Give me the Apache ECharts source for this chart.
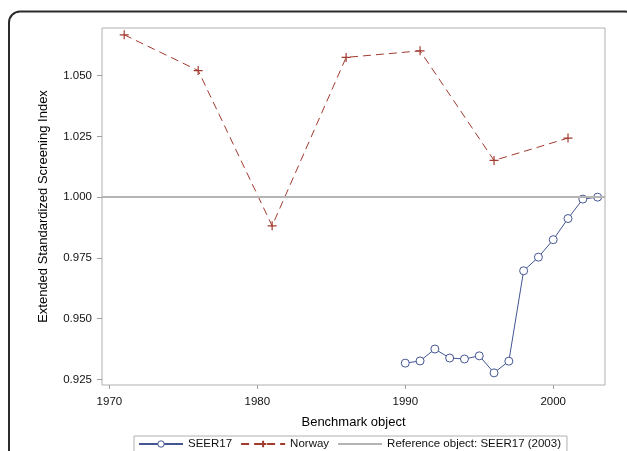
<!DOCTYPE html>
<html>
<head>
<meta charset="utf-8">
<script src="https://cdn.jsdelivr.net/npm/echarts@6/dist/echarts.min.js"></script>
<style>
html,body{margin:0;padding:0;background:#fff;}
#c{width:627px;height:451px;}
</style>
</head>
<body>
<div id="c"></div>
<script>
// ---- data ----
const norwayYears = [1971, 1976, 1981, 1986, 1991, 1996, 2001];
const norwayValues = [1.0668, 1.0521, 0.9882, 1.0575, 1.0602, 1.0151, 1.0243];
const seerYears = [1990, 1991, 1992, 1993, 1994, 1995, 1996, 1997, 1998, 1999, 2000, 2001, 2002, 2003];
const seerValues = [0.9317, 0.9326, 0.9375, 0.9338, 0.9334, 0.9347, 0.9277, 0.9325, 0.9697, 0.9753, 0.9825, 0.9912, 0.9992, 1.0000];
const refValue = 1.0;
const xTicks = [1970, 1980, 1990, 2000];
const yTicks = [0.925, 0.950, 0.975, 1.000, 1.025, 1.050];
const seriesNames = ['SEER17', 'Norway', 'Reference object: SEER17 (2003)'];
const xTitle = 'Benchmark object';
const yTitle = 'Extended Standardized Screening Index';
const xRange = [1969.5, 2003.5];
const yRange = [0.9227, 1.0696];

const FONT = '"Liberation Sans", Arial, sans-serif';
const BLUE = '#445694';
const RED = '#A23A2E';
const GREY = '#b4b4b4';

const chart = echarts.init(document.getElementById('c'), null, {renderer: 'canvas'});
const zip = (xs, ys) => xs.map((x, i) => [x, ys[i]]);

chart.setOption({
  animation: false,
  backgroundColor: '#fff',
  textStyle: {fontFamily: FONT},
  graphic: [{
    type: 'rect',
    shape: {x: 9, y: 11.5, width: 627, height: 470, r: 11},
    style: {fill: 'none', stroke: '#2b2b2b', lineWidth: 2},
    silent: true, z: -10
  }],
  grid: {
    left: 102, top: 28, right: 22, bottom: 66,
    show: true, borderColor: '#b0b0b0', borderWidth: 1, containLabel: false
  },
  xAxis: {
    type: 'value', min: xRange[0], max: xRange[1],
    name: xTitle, nameLocation: 'middle', nameGap: 31,
    nameTextStyle: {fontSize: 13, color: '#000', fontFamily: FONT},
    axisLine: {show: false},
    axisTick: {show: true, length: 4, customValues: xTicks, lineStyle: {color: '#a0a0a0'}},
    axisLabel: {customValues: xTicks, margin: 11, fontSize: 11.5, color: '#111', fontFamily: FONT,
      formatter: v => String(Math.round(v))},
    splitLine: {show: false}
  },
  yAxis: {
    type: 'value', min: yRange[0], max: yRange[1],
    name: yTitle, nameLocation: 'middle', nameGap: 52, nameRotate: 90,
    nameTextStyle: {fontSize: 13, color: '#000', fontFamily: FONT},
    axisLine: {show: false},
    axisTick: {show: true, length: 5, customValues: yTicks, lineStyle: {color: '#a0a0a0'}},
    axisLabel: {customValues: yTicks, margin: 10, fontSize: 11.5, color: '#111', fontFamily: FONT,
      formatter: v => v.toFixed(3)},
    splitLine: {show: false}
  },
  legend: {
    left: 134, top: 436,
    padding: [2, 6, 2, 4],
    borderColor: '#b0b0b0', borderWidth: 1,
    itemWidth: 44, itemHeight: 8, itemGap: 8,
    textStyle: {fontSize: 11.5, color: '#111', fontFamily: FONT},
    data: [
      {name: seriesNames[0], itemStyle: {color: '#fff', borderColor: BLUE, borderWidth: 1}},
      {name: seriesNames[1]},
      {name: seriesNames[2], itemStyle: {color: 'rgba(0,0,0,0)', borderColor: 'rgba(0,0,0,0)', opacity: 0}}
    ]
  },
  series: [
    {
      name: seriesNames[2], type: 'line', data: [], symbol: 'none',
      lineStyle: {color: GREY, width: 2}, itemStyle: {color: GREY},
      markLine: {
        silent: true, symbol: 'none', label: {show: false},
        lineStyle: {color: GREY, width: 2, type: 'solid'},
        data: [{yAxis: refValue}]
      },
      z: 1
    },
    {
      name: seriesNames[0], type: 'line', data: zip(seerYears, seerValues),
      symbol: 'circle', symbolSize: 8, showAllSymbol: true,
      lineStyle: {color: BLUE, width: 1},
      itemStyle: {color: '#fff', borderColor: BLUE, borderWidth: 1},
      emphasis: {disabled: true}, z: 3
    },
    {
      name: seriesNames[1], type: 'line', data: zip(norwayYears, norwayValues),
      symbol: 'path://M5,0L5,10M0,5L10,5', symbolSize: 9, showAllSymbol: true,
      lineStyle: {color: RED, width: 1, type: [8, 5]},
      itemStyle: {color: RED, borderColor: RED, borderWidth: 1.2},
      emphasis: {disabled: true}, z: 3
    }
  ]
});
</script>
</body>
</html>
